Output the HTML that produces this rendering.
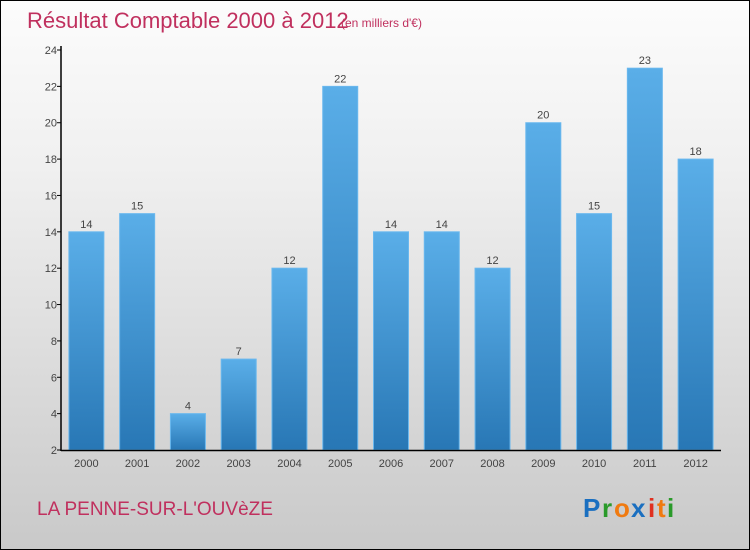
<!DOCTYPE html>
<html><head><meta charset="utf-8"><style>
html,body{margin:0;padding:0}
body{width:750px;height:550px;overflow:hidden;font-family:"Liberation Sans",sans-serif}
#wrap{position:relative;width:748px;height:548px;border:1px solid #000;background:linear-gradient(#fcfcfc,#f0f0f0 30%,#c9c9c9)}
</style></head><body>
<div id="wrap">
<svg id="chart" width="748" height="548" style="position:absolute;left:0;top:0">
<defs><linearGradient id="bg" x1="0" y1="0" x2="0" y2="1"><stop offset="0" stop-color="#5aaee8"/><stop offset="1" stop-color="#2877b5"/></linearGradient></defs>
<text x="26" y="27" font-size="22" fill="#c0305e">Résultat Comptable 2000 à 2012</text>
<text x="340" y="26" font-size="12" fill="#c0305e">(en milliers d'€)</text>
<g id="plot"></g>
<text x="36" y="514" font-size="19" fill="#c0305e">LA PENNE-SUR-L'OUVèZE</text>
<g font-size="26" font-weight="bold" font-family="Liberation Sans, sans-serif">
<text x="582" y="516" fill="#1a6fc0">P</text><text x="601" y="516" fill="#2a9a2a">r</text><text x="613" y="516" fill="#f07a10">o</text><text x="630" y="516" fill="#1a6fc0">x</text><text x="647" y="516" fill="#e03020">i</text><text x="656" y="516" fill="#f07a10">t</text><text x="666" y="516" fill="#2a9a2a">i</text>
</g>
</svg>
</div>
<script>
const years=["2000","2001","2002","2003","2004","2005","2006","2007","2008","2009","2010","2011","2012"];
const values=[14,15,4,7,12,22,14,14,12,20,15,23,18];
const yTicks=[2,4,6,8,10,12,14,16,18,20,22,24];
const NS="http://www.w3.org/2000/svg";
const g=document.getElementById('plot');
const x0=60,x1=720,yBase=449,yTop=49,vMin=2,vMax=24;
const band=(x1-x0)/years.length;
const xc=i=>x0+band*(i+0.5);
const y=v=>yBase-(v-vMin)/(vMax-vMin)*(yBase-yTop);
function mk(t,a){const e=document.createElementNS(NS,t);for(const k in a)e.setAttribute(k,a[k]);g.appendChild(e);return e;}
yTicks.forEach(t=>{
 const l=mk('line',{x1:x0-4,x2:x0,y1:y(t),y2:y(t),stroke:'#000'});
 
 
 const tx=mk('text',{x:x0-4,y:y(t)+4,'text-anchor':'end','font-size':11,fill:'#444'});
 tx.textContent=t;
 
 
});
values.forEach((v,i)=>{
 const r=mk('rect',{x:xc(i)-17.5,y:y(v),width:35,height:yBase-y(v),fill:'url(#bg)',stroke:'#6ab8ee','stroke-width':1});
 
 
 const vt=mk('text',{x:xc(i),y:y(v)-4,'text-anchor':'middle','font-size':11,fill:'#444'});
 vt.textContent=v;
 
 
 const xt=mk('text',{x:xc(i),y:466,'text-anchor':'middle','font-size':11,fill:'#444'});
 xt.textContent=years[i];
 
 
});
const ya=mk('line',{x1:x0,x2:x0,y1:yTop-4,y2:yBase+1,stroke:'#000','stroke-width':1.5});


const xa=mk('line',{x1:x0,x2:x1,y1:yBase+0.5,y2:yBase+0.5,stroke:'#000','stroke-width':1.5});


</script>
</body></html>
